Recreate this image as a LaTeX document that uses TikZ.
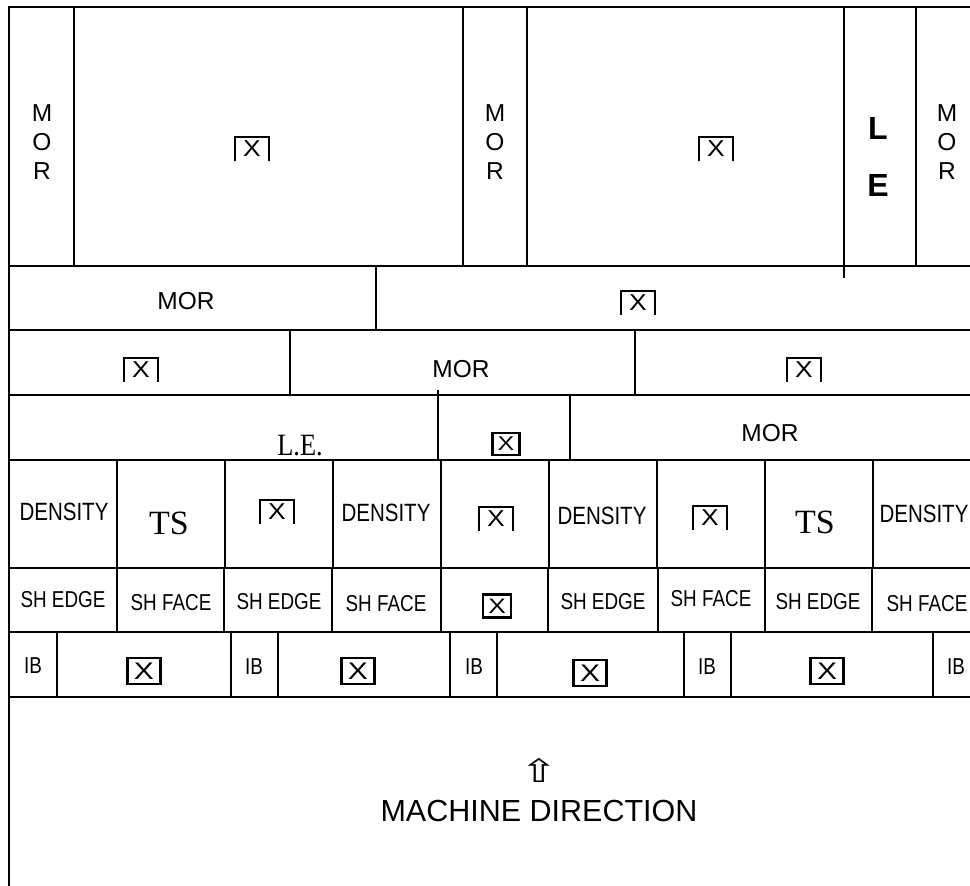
\documentclass[tikz,border=0pt]{standalone}
\usepackage{fontspec}
\usepackage{graphicx}
\usepackage{tikz}
\usetikzlibrary{calc,positioning}
\newfontfamily\arialfont{Liberation Sans}
\newfontfamily\narrowfont{Liberation Sans}[FakeStretch=0.82]
\newfontfamily\timesfont{Liberation Serif}
\newfontfamily\symbfont{DejaVu Sans}
\newcommand{\wideX}{\scalebox{1.25}[1]{X}}
\tikzset{
  rule/.style={line width=1.8pt},
  lbl/.style={inner sep=0pt,font=\arialfont\fontsize{24.5}{29}\selectfont},
  vlbl/.style={inner sep=0pt,align=center,font=\arialfont\fontsize{24.5}{29}\selectfont},
  nlbl/.style={inner sep=0pt,font=\narrowfont\fontsize{25}{25}\selectfont},
  slbl/.style={inner sep=0pt,font=\narrowfont\fontsize{23}{23}\selectfont},
  serif/.style={inner sep=0pt,font=\timesfont\fontsize{34}{34}\selectfont},
  openx/.style={inner sep=0pt,minimum width=33pt,minimum height=24pt,font=\arialfont\fontsize{23}{23}\selectfont},
  fullx/.style={draw,line width=2.2pt,inner sep=0pt,minimum width=33pt,minimum height=26pt,font=\arialfont\fontsize{24}{24}\selectfont},
}
\begin{document}
\begin{tikzpicture}[x=1pt,y=-1pt]
  \useasboundingbox (0,0) rectangle (970,886);
  % frame and rows
  \draw[rule] (970,7) -- (9,7) -- (9,886);
  \foreach \y in {266,330,395,460,568,632,697} {\draw[rule] (9,\y) -- (970,\y);}
  \foreach \x in {74,463,527,916} {\draw[rule] (\x,7) -- (\x,266);}
  \draw[rule] (844,7) -- (844,278);
  \draw[rule] (376,266) -- (376,330);
  \foreach \x in {290,635} {\draw[rule] (\x,330) -- (\x,395);}
  \draw[rule] (438,390) -- (438,460);
  \draw[rule] (570,395) -- (570,460);
  \foreach \x in {117,225,333,441,549,657,765,873} {\draw[rule] (\x,460) -- (\x,568);}
  \foreach \x in {117,224,332,441,548,658,765,872} {\draw[rule] (\x,568) -- (\x,632);}
  \foreach \x in {57,231,278,450,497,684,731,933} {\draw[rule] (\x,632) -- (\x,697);}

  % row 1
  \node[vlbl] (r1a) at (42,142) {M\\O\\R};
  \node[openx] (r1b) at (252,149) {\scalebox{1.15}[1]{X}};
  \node[vlbl] (r1c) at (495,142) {M\\O\\R};
  \node[openx] (r1d) at (716,149) {\scalebox{1.15}[1]{X}};
  \node[inner sep=0pt,align=center,font=\arialfont\bfseries\fontsize{32}{57}\selectfont] (r1e) at (878,157) {L\\E};
  \node[vlbl] (r1f) at (947,142) {M\\O\\R};
  % row 2
  \node[lbl] (r2a) at (186,301) {MOR};
  \node[openx] (r2b) at (638,303) {\scalebox{1.15}[1]{X}};
  % row 3
  \node[openx] (r3a) at (141,370) {\scalebox{1.15}[1]{X}};
  \node[lbl] (r3b) at (461,369) {MOR};
  \node[openx] (r3c) at (804,370) {\scalebox{1.15}[1]{X}};
  % row 4
  \node[serif,font=\timesfont\fontsize{31}{31}\selectfont] (r4a) at (300,446) {\scalebox{0.85}[1]{L.E.}};
  \node[fullx,minimum width=27pt,minimum height=22pt,font=\arialfont\fontsize{20}{20}\selectfont] (r4b) at (506,444) {\wideX};
  \node[lbl] (r4c) at (770,433) {MOR};
  % row 5
  \node[nlbl] (r5a) at (64,512) {DENSITY};
  \node[serif] (r5b) at (169,523) {TS};
  \node[openx] (r5c) at (277,512) {\scalebox{1.15}[1]{X}};
  \node[nlbl] (r5d) at (386,513) {DENSITY};
  \node[openx] (r5e) at (496,519) {\scalebox{1.15}[1]{X}};
  \node[nlbl] (r5f) at (602,516) {DENSITY};
  \node[openx] (r5g) at (710,518) {\scalebox{1.15}[1]{X}};
  \node[serif] (r5h) at (815,522) {TS};
  \node[nlbl] (r5i) at (924,514) {DENSITY};
  % row 6
  \node[slbl] (r6a) at (63,600) {SH EDGE};
  \node[slbl] (r6b) at (171,603) {SH FACE};
  \node[slbl] (r6c) at (279,602) {SH EDGE};
  \node[slbl] (r6d) at (386,604) {SH FACE};
  \node[fullx,minimum width=28pt,minimum height=23pt,font=\arialfont\fontsize{21}{21}\selectfont] (r6e) at (497,606) {\wideX};
  \node[slbl] (r6f) at (603,602) {SH EDGE};
  \node[slbl] (r6g) at (711,599) {SH FACE};
  \node[slbl] (r6h) at (818,602) {SH EDGE};
  \node[slbl] (r6i) at (927,604) {SH FACE};
  % row 7
  \node[slbl] (r7a) at (33,666) {IB};
  \node[fullx] (r7b) at (144,671) {\wideX};
  \node[slbl] (r7c) at (254,667) {IB};
  \node[fullx] (r7d) at (358,671) {\wideX};
  \node[slbl] (r7e) at (474,667) {IB};
  \node[fullx] (r7f) at (590,673) {\wideX};
  \node[slbl] (r7g) at (707,667) {IB};
  \node[fullx] (r7h) at (827,671) {\wideX};
  \node[slbl] (r7i) at (956,667) {IB};

  % open boxes
  \foreach \n in {r1b,r1d,r2b,r3a,r3c,r5c,r5e,r5g}
    {\draw[rule,line width=2pt] (\n.south west) |- (\n.north east) -- (\n.south east);}

  \node[inner sep=0pt,font=\symbfont\fontsize{28}{28}\selectfont] (mdarrow) at (539,770) {\scalebox{1.6}[1.15]{⇧}};
  \node[inner sep=0pt,font=\arialfont\fontsize{30.5}{30.5}\selectfont] (md) at (539,811) {MACHINE DIRECTION};
\end{tikzpicture}
\end{document}
